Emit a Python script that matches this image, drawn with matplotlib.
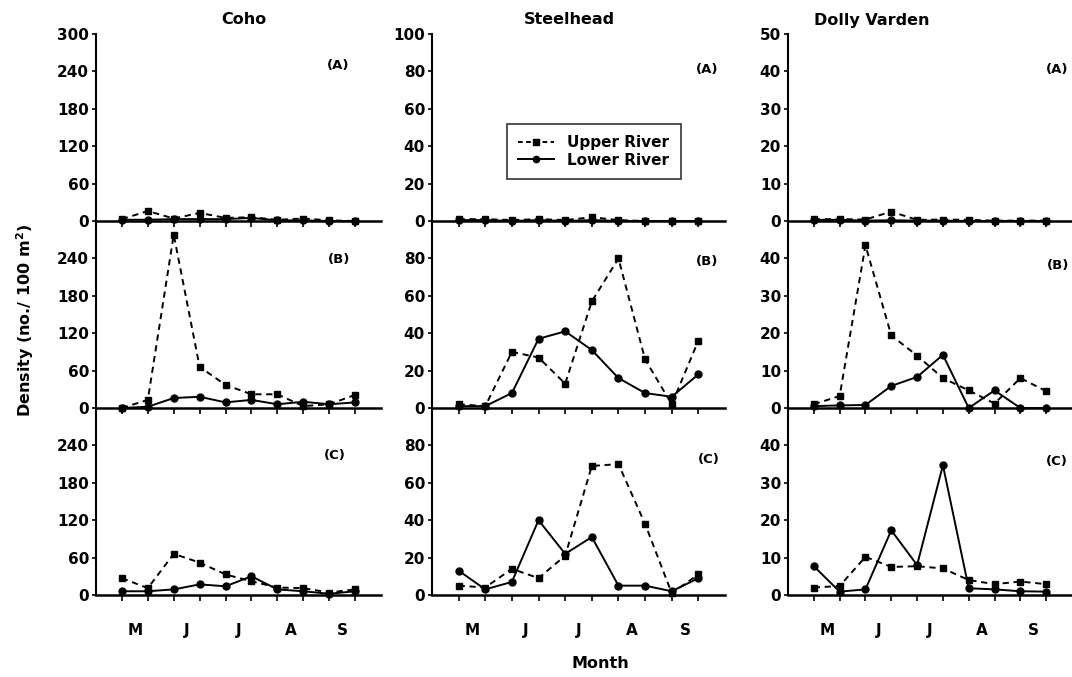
import matplotlib
matplotlib.use("Agg")
import matplotlib.pyplot as plt
from matplotlib.lines import Line2D

W, H = 1072, 677
plt.rcParams['font.family'] = ['DejaVu Sans']
plt.rcParams['font.weight'] = 'bold'

species = ["Coho", "Steelhead", "Dolly Varden"]
panels = ["(A)", "(B)", "(C)"]
months = ["M", "J", "J", "A", "S"]
dates = list(range(10))

# Coho
coho_upper_A = [3, 16, 4, 13, 5, 6, 2, 4, 1, 0]
coho_lower_A = [2, 2, 3, 3, 3, 5, 1, 1, 0, 0]
coho_upper_B = [0, 13, 278, 66, 37, 22, 22, 3, 6, 21]
coho_lower_B = [0, 2, 16, 18, 9, 13, 6, 10, 6, 9]
coho_upper_C = [27, 11, 66, 52, 33, 22, 12, 11, 4, 9]
coho_lower_C = [6, 6, 9, 17, 14, 30, 9, 6, 2, 6]

# Steelhead
steel_upper_A = [1, 1, 0.5, 1, 0.5, 2, 0.5, 0, 0, 0]
steel_lower_A = [0.5, 0.5, 0, 0.5, 0, 0.5, 0, 0, 0, 0]
steel_upper_B = [2, 1, 30, 27, 13, 57, 80, 26, 2, 36]
steel_lower_B = [1, 1, 8, 37, 41, 31, 16, 8, 6, 18]
steel_upper_C = [5, 4, 14, 9, 21, 69, 70, 38, 1, 11]
steel_lower_C = [13, 3, 7, 40, 22, 31, 5, 5, 2, 9]

# Dolly Varden
dolly_upper_A = [0.5, 0.5, 0.4, 2.5, 0.3, 0.4, 0.3, 0.1, 0.1, 0.1]
dolly_lower_A = [0.3, 0.3, 0.1, 0.2, 0.1, 0.1, 0, 0, 0, 0]
dolly_upper_B = [1, 3.2, 43.5, 19.4, 14, 8, 4.7, 1.2, 8, 4.5]
dolly_lower_B = [0.5, 0.7, 0.8, 5.9, 8.3, 14.2, 0, 4.7, 0, 0]
dolly_upper_C = [2, 2.4, 10.2, 7.5, 7.7, 7.1, 4, 2.9, 3.6, 2.9]
dolly_lower_C = [7.7, 0.9, 1.5, 17.3, 8, 34.7, 1.8, 1.5, 1, 0.9]

upper = [[coho_upper_A, coho_upper_B, coho_upper_C],
         [steel_upper_A, steel_upper_B, steel_upper_C],
         [dolly_upper_A, dolly_upper_B, dolly_upper_C]]
lower = [[coho_lower_A, coho_lower_B, coho_lower_C],
         [steel_lower_A, steel_lower_B, steel_lower_C],
         [dolly_lower_A, dolly_lower_B, dolly_lower_C]]

ymax = [300, 100, 50]
ystep = [60, 20, 10]

col_x = [(96, 381), (432, 725), (788, 1072)]
row_y = [(34, 221), (221, 408), (408, 595)]
title_x = [244, 569, 872]
label_pos = [[(338, 65), (339, 260), (335, 456)],
             [(707, 70), (707, 262), (709, 460)],
             [(1057, 70), (1058, 266), (1057, 462)]]

fig = plt.figure(figsize=(W / 100, H / 100), dpi=100)

dash = (0, (3.2, 2.4))
for c in range(3):
    x0, x1 = col_x[c]
    fig.text(title_x[c] / W, 1 - 20 / H, species[c], ha='center', va='center',
             fontsize=11.5, fontweight='bold')
    for r in range(3):
        yt, yb = row_y[r]
        ax = fig.add_axes([x0 / W, 1 - yb / H, (x1 - x0) / W, (yb - yt) / H])
        ax.set_xlim(-1, 10)
        ax.set_ylim(0, ymax[c])
        ax.patch.set_alpha(0)
        for s in ['top', 'right']:
            ax.spines[s].set_visible(False)
        ax.spines['left'].set_linewidth(1.5)
        ax.spines['bottom'].set_linewidth(1.8)
        ax.plot(dates, upper[c][r], linestyle=dash, color='black', lw=1.4,
                marker='s', ms=4.5, clip_on=False, zorder=3)
        ax.plot(dates, lower[c][r], linestyle='-', color='black', lw=1.4,
                marker='o', ms=5, clip_on=False, zorder=3)
        top = ymax[c] if r == 0 else ymax[c] - ystep[c]
        yt_vals = list(range(0, top + 1, ystep[c]))
        ax.set_yticks(yt_vals)
        ax.set_yticklabels([str(v) for v in yt_vals], fontsize=11, fontweight='bold')
        ax.tick_params(axis='y', direction='out', length=3, width=1.2, pad=2)
        ax.set_xticks(dates)
        ax.tick_params(axis='x', which='major', direction='out', length=4, width=1.2,
                       labelbottom=False)
        if r == 2:
            ax.set_xticks([0.5, 2.5, 4.5, 6.5, 8.5], minor=True)
            ax.set_xticklabels(months, minor=True, fontsize=11, fontweight='bold')
            ax.tick_params(axis='x', which='minor', length=0, pad=20)
        fx, fy = label_pos[c][r]
        fig.text(fx / W, 1 - fy / H, panels[r], ha='center', va='center',
                 fontsize=9.5, fontweight='bold')
        if c == 1 and r == 0:
            handles = [Line2D([], [], linestyle=(0, (2.4, 1.8)), color='black', lw=1.4,
                              marker='s', ms=4),
                       Line2D([], [], linestyle='-', color='black', lw=1.4,
                              marker='o', ms=4.5)]
            leg = fig.legend(handles, ["Upper River", "Lower River"],
                             loc='upper left', bbox_to_anchor=(507 / W, 1 - 124 / H),
                             bbox_transform=fig.transFigure, borderaxespad=0,
                             frameon=True, fancybox=False,
                             edgecolor='black', handlelength=2.3, handletextpad=0.9,
                             labelspacing=0.15, borderpad=0.75,
                             prop={'weight': 'bold', 'size': 11})
            leg.get_frame().set_linewidth(1.2)

fig.text(25 / W, 1 - 320 / H, "Density (no./ 100 m$^\\mathbf{2}$)", rotation=90,
         ha='center', va='center', fontsize=11.5, fontweight='bold')
fig.text(600 / W, 1 - 663 / H, "Month", ha='center', va='center',
         fontsize=11.5, fontweight='bold')

fig.savefig("out.png", dpi=100)
